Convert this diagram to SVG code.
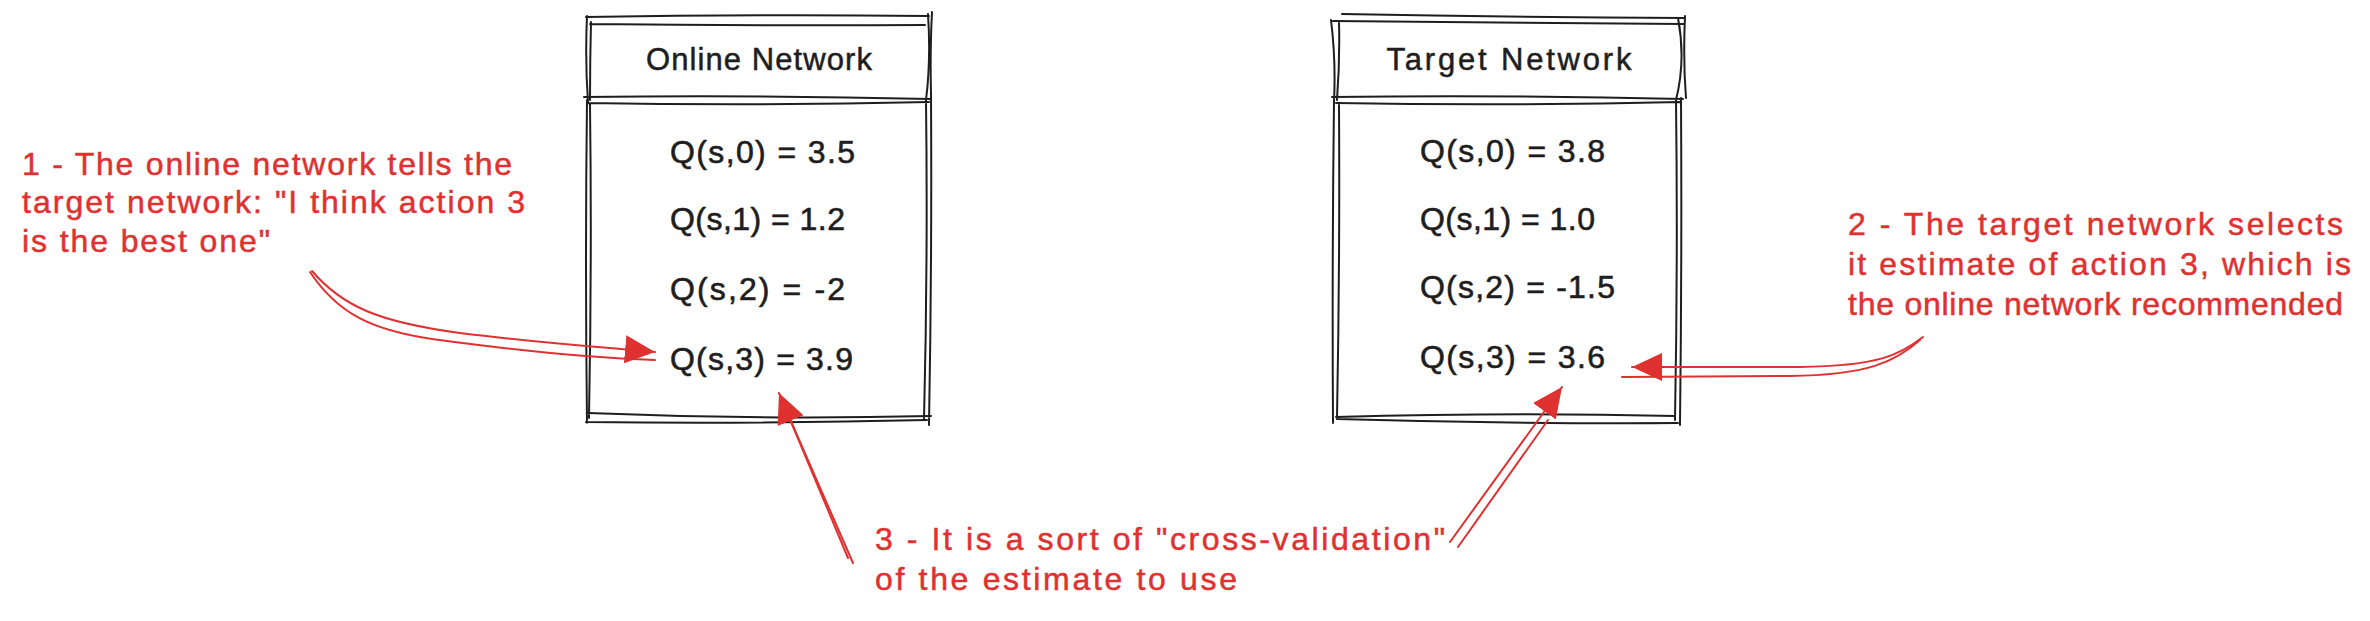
<svg xmlns="http://www.w3.org/2000/svg" width="2370" height="621" viewBox="0 0 2370 621">
  <style>
    .box { fill: none; stroke: #1e1e1e; stroke-width: 2; stroke-linecap: round; }
    .title { font-family: "Liberation Sans", Arial, sans-serif; font-size: 31px; fill: #1e1e1e; stroke: #1e1e1e; stroke-width: 0.5; text-anchor: middle; }
    .q { font-family: "Liberation Sans", Arial, sans-serif; font-size: 32px; fill: #1e1e1e; stroke: #1e1e1e; stroke-width: 0.6; }
    .note { font-family: "Liberation Sans", Arial, sans-serif; font-size: 32px; fill: #e03131; stroke: #e03131; stroke-width: 0.5; }
    .conn { fill: none; stroke: #e03131; stroke-width: 2; stroke-linecap: round; }
  </style>
  <defs>
    <marker id="arrow" viewBox="0 0 30 28" markerUnits="userSpaceOnUse" markerWidth="30" markerHeight="28" refX="30" refY="14" orient="auto">
      <path d="M0,0 L30,14 L0,28 Z" fill="#e03131"/>
    </marker>
  </defs>
  <rect x="0" y="0" width="2370" height="621" fill="#ffffff"/>

  <g id="online-network">
    <path class="box" d="M586 17 Q760 14 929 16 M590 24 Q760 26 925 25 M587 16 Q585 60 588 102 M591 22 Q590 60 590 100 M928 14 Q931 60 926 100 M932 12 Q930 50 931 95 M584 97 Q760 95 930 99 M587 103 Q760 106 929 102 M587 100 Q585 260 587 423 M590 104 Q592 260 589 418 M926 100 Q928 260 924 420 M931 95 Q932 260 929 425 M588 413 Q760 420 931 416 M586 422 Q760 424 927 420"/>
    <text class="title" x="759" y="70" textLength="226" lengthAdjust="spacing">Online Network</text>
    <text class="q" x="670" y="163" textLength="185" lengthAdjust="spacing">Q(s,0) = 3.5</text>
    <text class="q" x="670" y="230" textLength="175" lengthAdjust="spacing">Q(s,1) = 1.2</text>
    <text class="q" x="670" y="300" textLength="175" lengthAdjust="spacing">Q(s,2) = -2</text>
    <text class="q" x="670" y="370" textLength="183" lengthAdjust="spacing">Q(s,3) = 3.9</text>
  </g>

  <g id="target-network">
    <path class="box" d="M1342 14 Q1510 17 1685 18 M1333 21 Q1510 22 1683 24 M1331 20 Q1336 60 1334 102 M1339 22 Q1340 60 1337 100 M1678 18 Q1686 60 1676 100 M1685 16 Q1683 60 1686 98 M1332 97 Q1510 95 1683 99 M1336 103 Q1510 106 1680 102 M1334 100 Q1332 260 1333 423 M1339 104 Q1340 260 1337 418 M1676 100 Q1678 260 1675 420 M1681 98 Q1682 260 1680 425 M1336 417 Q1510 412 1675 416 M1337 419 Q1510 424 1678 423"/>
    <text class="title" x="1509" y="70" textLength="245" lengthAdjust="spacing">Target Network</text>
    <text class="q" x="1420" y="162" textLength="185" lengthAdjust="spacing">Q(s,0) = 3.8</text>
    <text class="q" x="1420" y="230" textLength="175" lengthAdjust="spacing">Q(s,1) = 1.0</text>
    <text class="q" x="1420" y="298" textLength="195" lengthAdjust="spacing">Q(s,2) = -1.5</text>
    <text class="q" x="1420" y="368" textLength="185" lengthAdjust="spacing">Q(s,3) = 3.6</text>
  </g>

  <g id="note-1">
    <text class="note" x="22" y="175" textLength="490" lengthAdjust="spacing">1 - The online network tells the</text>
    <text class="note" x="22" y="213" textLength="503" lengthAdjust="spacing">target network: "I think action 3</text>
    <text class="note" x="22" y="252" textLength="248" lengthAdjust="spacing">is the best one"</text>
  </g>

  <g id="note-2">
    <text class="note" x="1848" y="235" textLength="495" lengthAdjust="spacing">2 - The target network selects</text>
    <text class="note" x="1848" y="275" textLength="503" lengthAdjust="spacing">it estimate of action 3, which is</text>
    <text class="note" x="1848" y="315" textLength="495" lengthAdjust="spacing">the online network recommended</text>
  </g>

  <g id="note-3">
    <text class="note" x="875" y="550" textLength="570" lengthAdjust="spacing">3 - It is a sort of "cross-validation"</text>
    <text class="note" x="875" y="590" textLength="362" lengthAdjust="spacing">of the estimate to use</text>
  </g>

  <g id="connectors">
    <path class="conn" d="M312 271 C342 306 378 322 460 333 C540 343 600 347 655 352" marker-end="url(#arrow)"/>
    <path class="conn" d="M310 272 C338 314 372 330 432 339 C520 351 600 358 655 360"/>
    <path class="conn" d="M1923 337 C1900 355 1878 366 1800 367 L1632 367" marker-end="url(#arrow)"/>
    <path class="conn" d="M1920 340 C1895 362 1868 375 1790 376 L1622 377"/>
    <path class="conn" d="M848 558 L779 393" marker-end="url(#arrow)"/>
    <path class="conn" d="M853 563 L786 410"/>
    <path class="conn" d="M1450 542 L1562 387" marker-end="url(#arrow)"/>
    <path class="conn" d="M1458 547 L1548 420"/>
  </g>
</svg>
